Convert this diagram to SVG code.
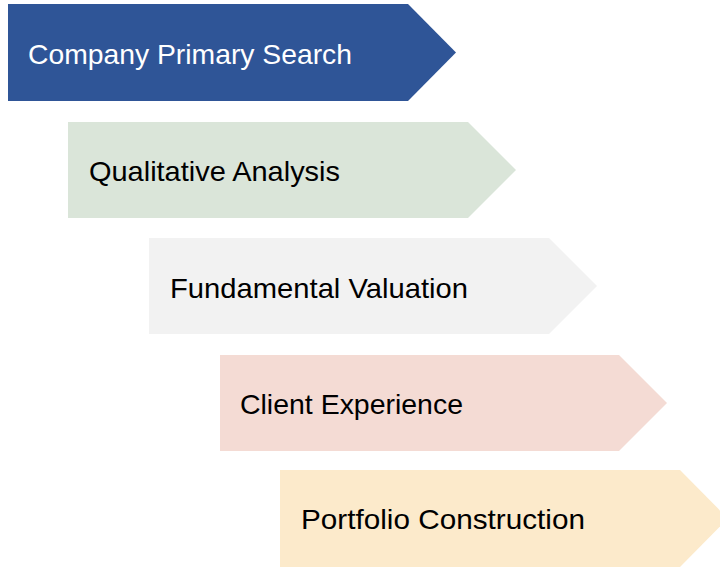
<svg xmlns="http://www.w3.org/2000/svg" width="720" height="567" viewBox="0 0 720 567">
<style>
.lbl{font-family:"Liberation Sans",Arial,sans-serif;font-size:28px;fill:#000}
.w{fill:#fff}
</style>
<rect width="720" height="567" fill="#fff"/>
<g id="step1">
<polygon points="8,4 408,4 456,52.5 408,101 8,101" fill="#2F5597"/>
<text class="lbl w" x="28" y="64" textLength="324" lengthAdjust="spacingAndGlyphs">Company Primary Search</text>
</g>
<g id="step2">
<polygon points="68,122 468,122 516,170 468,218 68,218" fill="#DAE5D9"/>
<text class="lbl" x="89" y="181" textLength="251" lengthAdjust="spacingAndGlyphs">Qualitative Analysis</text>
</g>
<g id="step3">
<polygon points="149,238 549,238 597,286 549,334 149,334" fill="#F2F2F2"/>
<text class="lbl" x="170" y="298" textLength="298" lengthAdjust="spacingAndGlyphs">Fundamental Valuation</text>
</g>
<g id="step4">
<polygon points="220,355 619,355 667,403 619,451 220,451" fill="#F4DBD4"/>
<text class="lbl" x="240" y="414" textLength="223" lengthAdjust="spacingAndGlyphs">Client Experience</text>
</g>
<g id="step5">
<polygon points="280,470 680,470 728,518.5 680,567 280,567" fill="#FCEACB"/>
<text class="lbl" x="301" y="529" textLength="284" lengthAdjust="spacingAndGlyphs">Portfolio Construction</text>
</g>
<g id="connectors"></g>
</svg>
